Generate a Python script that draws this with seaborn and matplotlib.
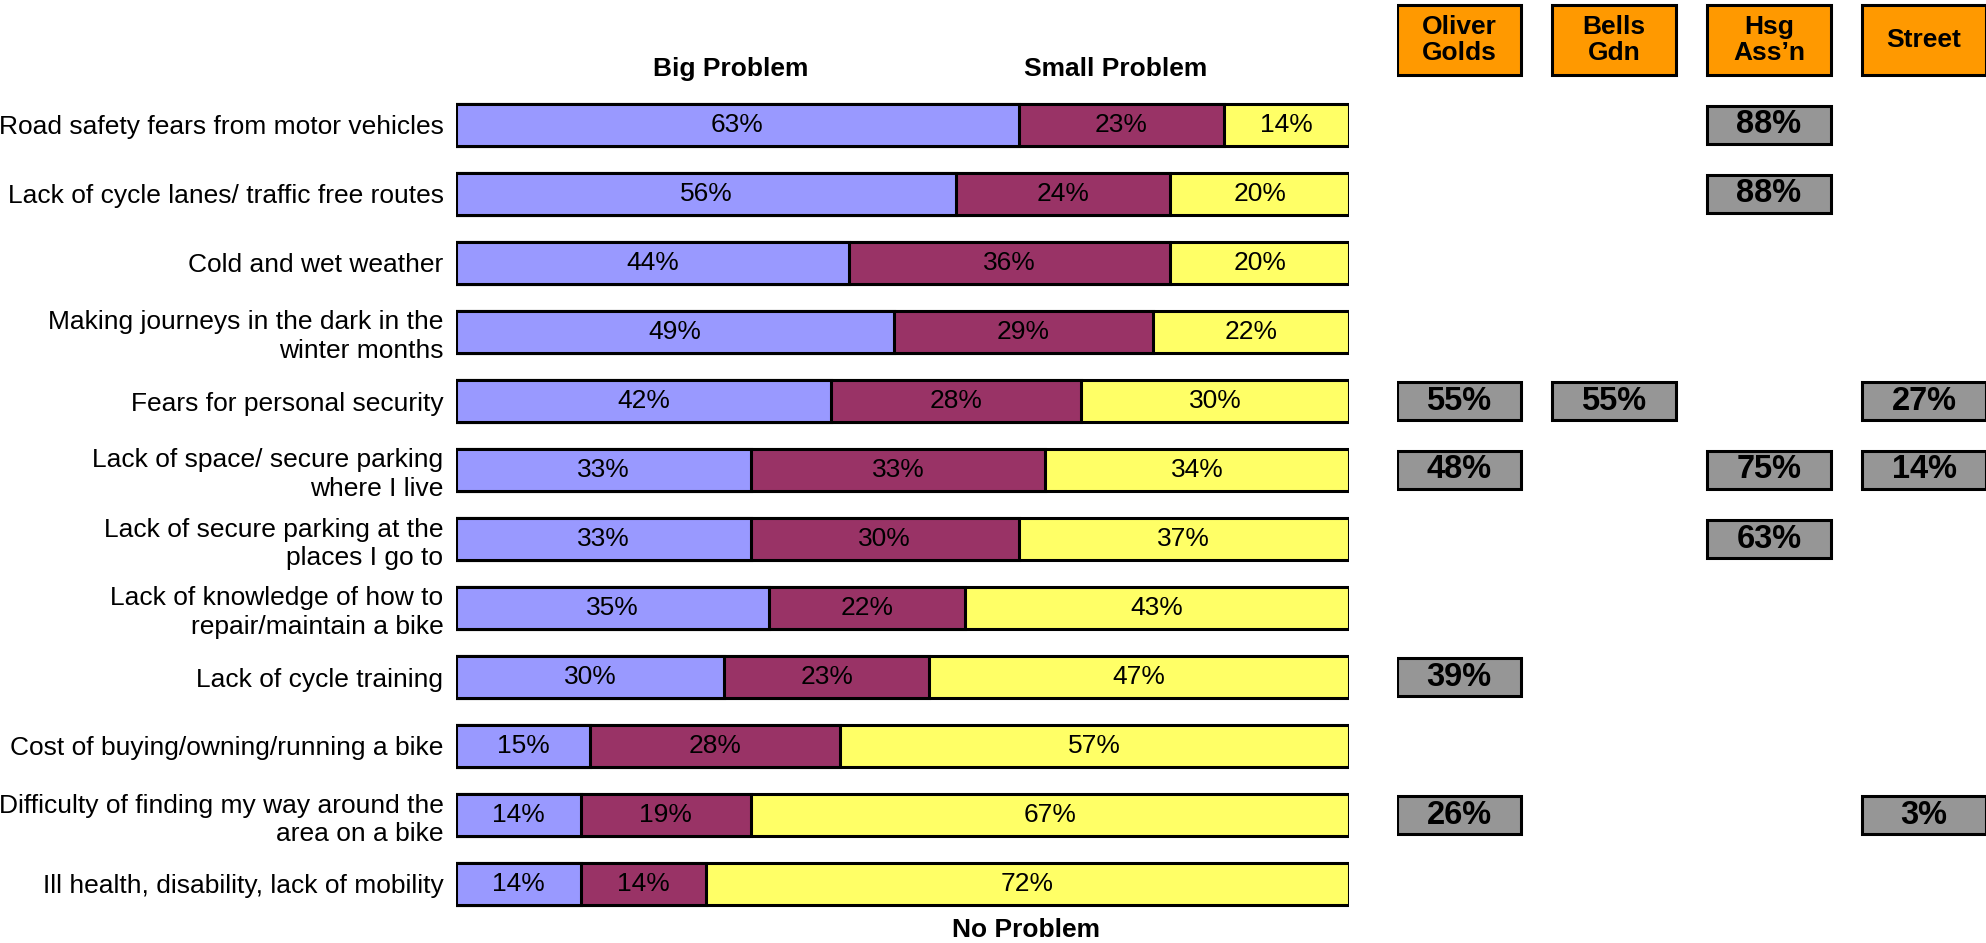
import matplotlib
matplotlib.use("Agg")
import matplotlib.pyplot as plt
from matplotlib.patches import Rectangle
import numpy as np
import pandas as pd
import seaborn as sns

# Survey: barriers to cycling
categories = [
    "Road safety fears from motor vehicles",
    "Lack of cycle lanes/ traffic free routes",
    "Cold and wet weather",
    "Making journeys in the dark in the\nwinter months",
    "Fears for personal security",
    "Lack of space/ secure parking\nwhere I live",
    "Lack of secure parking at the\nplaces I go to",
    "Lack of knowledge of how to\nrepair/maintain a bike",
    "Lack of cycle training",
    "Cost of buying/owning/running a bike",
    "Difficulty of finding my way around the\narea on a bike",
    "Ill health, disability, lack of mobility",
]
big_problem = [63, 56, 44, 49, 42, 33, 33, 35, 30, 15, 14, 14]
small_problem = [23, 24, 36, 29, 28, 33, 30, 22, 23, 28, 19, 14]
no_problem = [14, 20, 20, 22, 30, 34, 37, 43, 47, 57, 67, 72]

# Area breakdown (share reporting the issue), None where not reported
areas = ["Oliver\nGolds", "Bells\nGdn", "Hsg\nAss\u2019n", "Street"]
oliver_golds = [None, None, None, None, 55, 48, None, None, 39, None, 26, None]
bells_gdn = [None, None, None, None, 55, None, None, None, None, None, None, None]
hsg_assn = [88, 88, None, None, None, 75, 63, None, None, None, None, None]
street = [None, None, None, None, 27, 14, None, None, None, None, 3, None]

C_BIG = "#9999FF"
C_SMALL = "#993366"
C_NONE = "#FFFF66"
C_HEAD = "#FF9900"
C_GREY = "#969696"

sns.set_theme(style="white")
plt.rcParams["font.family"] = ["Liberation Sans", "DejaVu Sans"]
plt.rcParams["text.color"] = "black"
plt.rcParams["ytick.color"] = "black"
plt.rcParams["ytick.labelcolor"] = "black"

W, H = 1986, 943
fig = plt.figure(figsize=(W / 100, H / 100), dpi=100)

# vertical mapping: row i centred at pixel 125 + 69*i
ROW0, ROWSTEP = 125, 69
ytop = (0 - ROW0) / ROWSTEP
ybot = (H - ROW0) / ROWSTEP

bar_l, bar_r = 456, 1349
ax = fig.add_axes([bar_l / W, 0, (bar_r - bar_l) / W, 1])

df = pd.DataFrame({
    "issue": categories,
    "big": big_problem,
    "small": small_problem,
    "none": no_problem,
})
df["cum_small"] = df["big"] + df["small"]
df["cum_all"] = df["cum_small"] + df["none"]

bar_kw = dict(orient="h", edgecolor="black", linewidth=2.2, width=0.62,
              saturation=1, order=categories)
sns.barplot(data=df, x="cum_all", y="issue", color=C_NONE, ax=ax, **bar_kw)
sns.barplot(data=df, x="cum_small", y="issue", color=C_SMALL, ax=ax, **bar_kw)
sns.barplot(data=df, x="big", y="issue", color=C_BIG, ax=ax, **bar_kw)

ax.set_xlim(0, 100)
ax.set_ylim(ybot, ytop)
ax.set_xlabel("")
ax.set_ylabel("")
ax.set_xticks([])
ax.set_yticks(range(len(categories)))
ax.set_yticklabels(categories, fontsize=19, linespacing=1.25, color="black")
ax.tick_params(axis="y", length=0, pad=9)
for s in ax.spines.values():
    s.set_visible(False)

lbl = dict(ha="center", va="center", fontsize=19, color="black")
for i, row in df.iterrows():
    ax.text(row["big"] / 2, i, f"{row['big']}%", **lbl)
    ax.text(row["big"] + row["small"] / 2, i, f"{row['small']}%", **lbl)
    ax.text(row["cum_small"] + row["none"] / 2, i, f"{row['none']}%", **lbl)

hdr = dict(ha="center", va="center", fontsize=19, fontweight="bold", color="black")
ax.text(30.8, (69 - ROW0) / ROWSTEP, "Big Problem", **hdr)
ax.text(73.9, (69 - ROW0) / ROWSTEP, "Small Problem", **hdr)
ax.text(63.8, (930 - ROW0) / ROWSTEP, "No Problem", **hdr)

# area panel
pan_l = 1397
axr = fig.add_axes([pan_l / W, 0, (W - pan_l) / W, 1])
axr.set_xlim(0, W - pan_l)
axr.set_ylim(ybot, ytop)
axr.axis("off")

COLSTEP, BOXW = 155, 124
head_top, head_bot = (5 - ROW0) / ROWSTEP, (75 - ROW0) / ROWSTEP
for j, name in enumerate(areas):
    x0 = j * COLSTEP
    axr.add_patch(Rectangle((x0, head_top), BOXW, head_bot - head_top,
                            facecolor=C_HEAD, edgecolor="black", linewidth=2.2))
    axr.text(x0 + BOXW / 2, (head_top + head_bot) / 2, name, ha="center",
             va="center", fontsize=19, fontweight="bold", linespacing=1.1,
             color="black")

box_h = 0.55
for j, col in enumerate([oliver_golds, bells_gdn, hsg_assn, street]):
    x0 = j * COLSTEP
    for i, v in enumerate(col):
        if v is None:
            continue
        axr.add_patch(Rectangle((x0, i - box_h / 2), BOXW, box_h,
                                facecolor=C_GREY, edgecolor="black", linewidth=2.2))
        axr.text(x0 + BOXW / 2, i, f"{v}%", ha="center", va="center",
                 fontsize=23.5, fontweight="bold", color="black")

fig.savefig("out.png", dpi=100, facecolor="white")
